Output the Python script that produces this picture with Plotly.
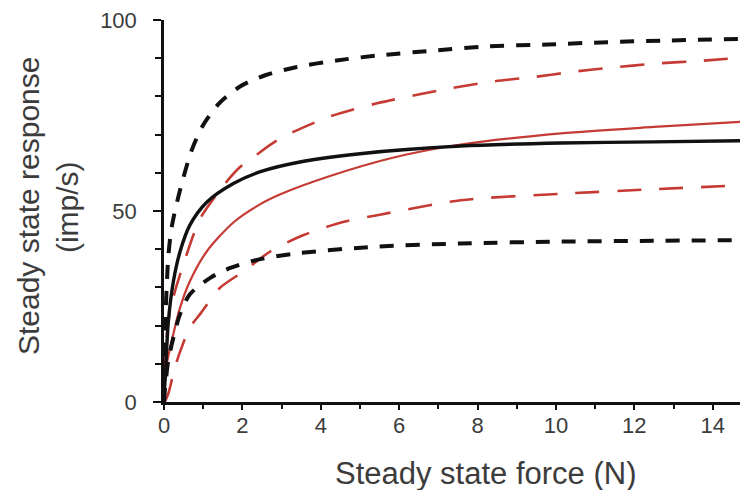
import plotly.graph_objects as go

# ---- data ----
bdu_x = [0, 0.03, 0.11, 0.2, 0.41, 0.71, 1.0, 1.4, 1.94, 2.6, 3.39, 4.4, 5.44, 6.89, 8.25, 9.79, 11.32, 12.69, 14.93]
bdu_y = [5, 20, 38, 46, 55.5, 66, 72.5, 78.1, 82.6, 85.6, 87.7, 89.4, 90.7, 92.0, 93.1, 93.6, 94.2, 94.6, 95.1]

bdl_x = [0, 0.03, 0.11, 0.24, 0.41, 0.66, 1.18, 1.69, 2.37, 3.39, 5.44, 7.57, 10.13, 12.5, 14.93]
bdl_y = [0, 4, 10.9, 16.9, 23, 28.2, 32.5, 35.1, 37.2, 38.9, 40.7, 41.5, 42.0, 42.2, 42.4]

bs_x = [0, 0.03, 0.11, 0.24, 0.41, 0.66, 1.09, 1.77, 2.46, 3.5, 5.0, 7.57, 10.13, 12.5, 14.93]
bs_y = [2, 6, 21, 31.6, 39.4, 46.3, 52.3, 57.2, 60.3, 62.9, 65.0, 67.0, 67.8, 68.1, 68.4]

rs_x = [0, 0.07, 0.2, 0.41, 0.66, 1.09, 1.77, 2.46, 3.0, 4.16, 5.86, 7.57, 10.13, 12.5, 14.93]
rs_y = [6, 10, 16.1, 24.7, 31.6, 39.4, 47.0, 51.8, 54.5, 58.9, 64.0, 67.4, 70.3, 72.0, 73.5]

rdu_x = [0, 0.03, 0.11, 0.28, 0.49, 0.75, 0.92, 1.52, 1.94, 2.37, 2.97, 4.25, 5.44, 7.31, 8.38, 9.45, 10.4, 11.49, 12.56, 13.67, 14.93]
rdu_y = [6, 10.9, 21.2, 29, 35.9, 43.7, 48, 56.7, 61.5, 64.8, 69.0, 74.8, 78.2, 82.1, 83.9, 85.1, 86.4, 87.6, 88.6, 89.3, 90.3]

rdl_x = [0.02, 0.11, 0.28, 0.45, 0.66, 0.92, 1.43, 2.03, 2.71, 3.56, 4.59, 5.44, 7.57, 10.13, 12.5, 14.93]
rdl_y = [0, 2.2, 9.1, 14.3, 19.5, 23, 29.9, 34.2, 39.4, 43.7, 47.2, 48.9, 52.8, 54.5, 55.7, 56.8]

x_tickvals = [0, 2, 4, 6, 8, 10, 12, 14]
y_tickvals = [0, 50, 100]

BLACK = "#111111"
RED = "#c63a34"
TXT = "#3c3c3c"

fig = go.Figure()

def add(x, y, color, width, dash):
    fig.add_trace(go.Scatter(x=x, y=y, mode="lines",
                             line=dict(color=color, width=width, dash=dash, shape="spline", smoothing=0.8),
                             showlegend=False, hoverinfo="skip"))

add(rdu_x, rdu_y, RED, 2.6, "24px,18px")
add(rdl_x, rdl_y, RED, 2.6, "24px,18px")
add(rs_x, rs_y, RED, 2.2, "solid")
add(bdu_x, bdu_y, BLACK, 4, "14px,12px")
add(bdl_x, bdl_y, BLACK, 4, "14px,12px")
add(bs_x, bs_y, BLACK, 3.4, "solid")

# page has an 8px body margin; figure is sized so it fills the 748x490 window
fig.update_layout(
    width=740, height=482,
    margin=dict(l=156, r=0, t=8, b=88),
    plot_bgcolor="white", paper_bgcolor="white",
    font=dict(family="Liberation Sans, Arial, sans-serif", color=TXT),
)

fig.update_xaxes(
    range=[0, 14.9], tickvals=x_tickvals, ticktext=[str(v) for v in x_tickvals],
    showgrid=False, zeroline=False, showline=True, linecolor=BLACK, linewidth=2.5,
    ticks="outside", ticklen=5, tickwidth=2, tickcolor=BLACK,
    minor=dict(dtick=1, ticks="outside", ticklen=4, tickwidth=2, tickcolor=BLACK, showgrid=False),
    tickfont=dict(size=22, color=TXT), ticklabelstandoff=-3, ticklabeloverflow="allow",
)
fig.update_yaxes(
    range=[0, 100], tickvals=y_tickvals, ticktext=[str(v) for v in y_tickvals],
    showgrid=False, zeroline=False, showline=True, linecolor=BLACK, linewidth=2.5,
    ticks="outside", ticklen=8, tickwidth=2, tickcolor=BLACK,
    minor=dict(dtick=10, ticks="outside", ticklen=6, tickwidth=2, tickcolor=BLACK, showgrid=False),
    tickfont=dict(size=22, color=TXT), ticklabelstandoff=12, ticklabeloverflow="allow",
)

def px_x(p):
    return (p - 164) / 584

def px_y(p):
    return (402 - p) / 386

fig.add_annotation(text="Steady state force (N)", xref="paper", yref="paper",
                   x=px_x(486), y=px_y(474), showarrow=False,
                   font=dict(size=31, color=TXT), xanchor="center", yanchor="middle")
fig.add_annotation(text="Steady state response", xref="paper", yref="paper",
                   x=px_x(28), y=px_y(204), textangle=-90, showarrow=False,
                   font=dict(size=30, color=TXT), xanchor="center", yanchor="middle")
fig.add_annotation(text="(imp/s)", xref="paper", yref="paper",
                   x=px_x(67), y=px_y(205), textangle=-90, showarrow=False,
                   font=dict(size=30, color=TXT), xanchor="center", yanchor="middle")

fig.write_html("out.html")
